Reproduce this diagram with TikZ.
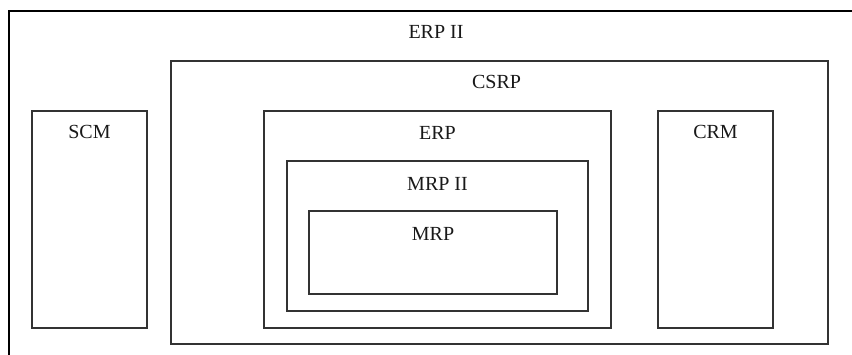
\documentclass[tikz,border=0pt]{standalone}
\usepackage{fontspec}
\setmainfont{Liberation Serif}
\usepackage{tikz}
\usetikzlibrary{positioning}

\begin{document}
\begin{tikzpicture}[x=1pt,y=-1pt,nodes={inner sep=0pt,outer sep=0pt},font=\fontsize{20}{24}\selectfont]
\tikzstyle{box}=[draw=black!80,line width=1.3pt,anchor=north west]
\tikzstyle{lbl}=[anchor=base,text=black!90]
\useasboundingbox (0,0) rectangle (852,354);
\clip (0,0) rectangle (852,354);
\node[box,draw=black,line width=1.5pt,minimum width=870,minimum height=360] (erpii) at (9,11) {};
\node[box,minimum width=115,minimum height=217] (scm) at (32,111) {};
\node[box,minimum width=657,minimum height=283] (csrp) at (171,61) {};
\node[box,minimum width=347,minimum height=217] (erp) at (264,111) {};
\node[box,minimum width=301,minimum height=150] (mrpii) at (287,161) {};
\node[box,minimum width=248,minimum height=83] (mrp) at (309,211) {};
\node[box,minimum width=115,minimum height=217] (crm) at (658,111) {};

\node[lbl] (erpii-l) at (436,38) {ERP II};
\node[lbl] (scm-l) at ([yshift=-27pt]scm.north) {SCM};
\node[lbl] (csrp-l) at ([xshift=-3pt,yshift=-27pt]csrp.north) {CSRP};
\node[lbl] (erp-l) at ([yshift=-28pt]erp.north) {ERP};
\node[lbl] (mrpii-l) at ([yshift=-29pt]mrpii.north) {MRP II};
\node[lbl] (mrp-l) at ([yshift=-29pt]mrp.north) {MRP};
\node[lbl] (crm-l) at ([yshift=-27pt]crm.north) {CRM};
\end{tikzpicture}
\end{document}
